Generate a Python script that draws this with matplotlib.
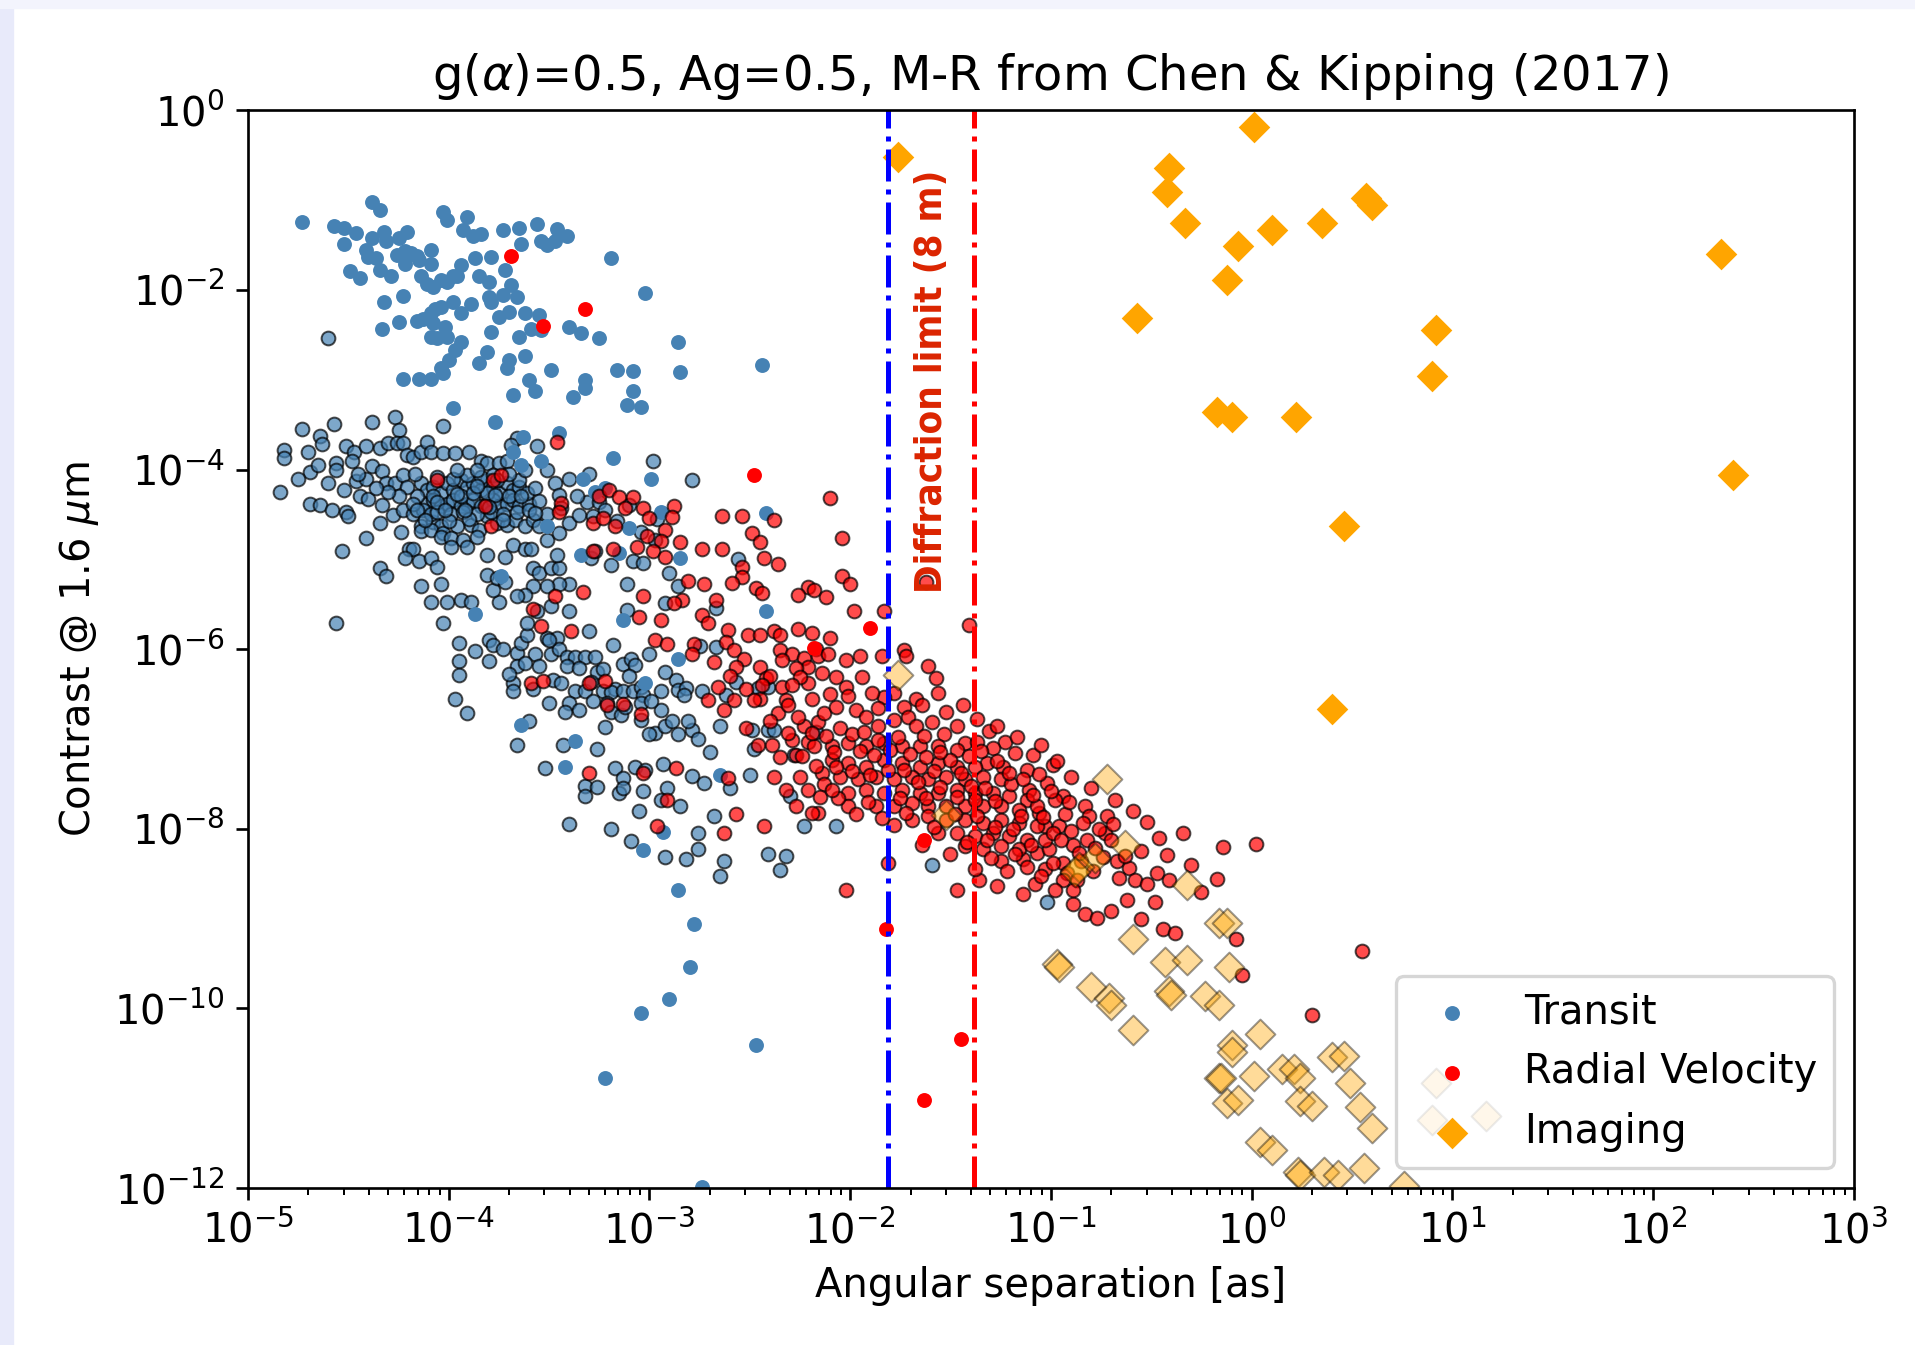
import numpy as np
import matplotlib
matplotlib.use("Agg")
import matplotlib.pyplot as plt
from matplotlib.patches import Rectangle
from matplotlib.ticker import LogLocator, NullLocator

# values, as (log10 separation [as], log10 contrast)
transit_detected = [
    (-4.73, -1.24), (-4.38, -1.02), (-4.34, -1.11), (-4.57, -1.29), (-4.52, -1.31), (-4.46, -1.37),
    (-4.38, -1.42), (-4.52, -1.49), (-4.32, -1.35), (-4.31, -1.45), (-4.25, -1.42), (-4.21, -1.35),
    (-4.41, -1.56), (-4.36, -1.64), (-4.40, -1.63), (-4.26, -1.61), (-4.22, -1.57), (-4.19, -1.59),
    (-4.16, -1.62), (-4.09, -1.56), (-4.09, -1.71), (-4.22, -1.71), (-4.15, -1.67), (-4.49, -1.79),
    (-4.44, -1.87), (-4.34, -1.78), (-4.29, -1.85), (-4.14, -1.84), (-4.11, -1.93), (-4.08, -1.97),
    (-4.04, -1.89), (-4.01, -1.91), (-3.98, -1.85), (-3.96, -1.84), (-4.03, -1.13), (-4.01, -1.22),
    (-3.91, -1.19), (-3.93, -1.33), (-3.88, -1.40), (-3.84, -1.38), (-3.87, -1.65), (-3.79, -1.63),
    (-3.73, -1.33), (-3.65, -1.31), (-3.64, -1.49), (-3.56, -1.27), (-3.54, -1.45), (-3.51, -1.50),
    (-3.46, -1.32), (-3.47, -1.45), (-3.41, -1.40), (-3.85, -1.84), (-3.80, -1.91), (-3.72, -1.78),
    (-3.69, -1.95), (-3.80, -2.08), (-3.79, -2.13), (-3.73, -2.06), (-3.66, -2.08), (-3.94, -1.72),
    (-3.98, -2.13), (-3.89, -2.16), (-3.94, -2.26), (-4.07, -2.21), (-4.04, -2.19), (-4.09, -2.26),
    (-4.13, -2.32), (-4.16, -2.35), (-4.08, -2.37), (-4.02, -2.41), (-4.09, -2.52), (-4.06, -2.54),
    (-4.01, -2.52), (-4.33, -2.43), (-4.25, -2.36), (-4.23, -2.07), (-4.32, -2.14), (-3.97, -2.67),
    (-3.94, -2.58), (-4.00, -2.78), (-4.04, -2.87), (-4.03, -2.93), (-4.09, -2.99), (-4.15, -2.99),
    (-4.23, -2.99), (-3.81, -2.69), (-3.85, -2.81), (-3.70, -2.78), (-3.71, -2.87), (-3.62, -2.74),
    (-3.60, -3.00), (-3.57, -3.13), (-3.68, -3.17), (-3.49, -2.89), (-3.38, -3.19), (-3.32, -3.00),
    (-3.32, -3.09), (-3.16, -2.89), (-3.08, -2.90), (-3.08, -3.12), (-3.11, -3.28), (-3.04, -3.30),
    (-3.19, -1.64), (-3.02, -2.03), (-2.86, -2.58), (-2.85, -2.91), (-3.25, -2.54), (-3.34, -2.48),
    (-3.40, -2.41), (-3.65, -2.52), (-3.79, -2.47), (-3.75, -2.30), (-3.70, -2.25), (-3.62, -2.26),
    (-3.55, -2.28), (-3.59, -2.44), (-3.54, -2.45), (-3.98, -3.31), (-2.44, -2.84), (-2.42, -4.48),
    (-2.42, -5.58), (-3.77, -3.47), (-3.63, -3.64), (-3.45, -3.59), (-3.68, -3.81), (-3.64, -3.95),
    (-3.54, -3.91), (-3.33, -4.10), (-3.18, -3.87), (-2.99, -4.10), (-3.27, -4.25), (-3.22, -4.21),
    (-3.51, -4.63), (-3.10, -4.65), (-2.94, -4.47), (-2.85, -4.99), (-3.15, -4.93), (-3.34, -4.95),
    (-3.74, -5.19), (-3.02, -6.38), (-3.64, -6.84), (-3.87, -5.61), (-3.13, -5.68), (-2.86, -6.11),
    (-3.37, -7.02), (-3.42, -7.31), (-3.03, -8.24), (-2.93, -8.04), (-2.65, -7.40), (-2.86, -8.68),
    (-2.78, -9.06), (-2.80, -9.54), (-2.90, -9.90), (-3.04, -10.05), (-2.47, -10.41), (-3.22, -10.77),
    (-2.74, -11.99),
]

transit_simulated = [
    (-4.60, -2.53), (-4.73, -3.55), (-4.64, -3.63), (-4.57, -3.49), (-4.38, -3.47), (-4.27, -3.42),
    (-4.25, -3.56), (-4.03, -3.52), (-4.82, -3.78), (-4.82, -3.87), (-4.84, -4.25), (-4.69, -4.03),
    (-4.56, -3.93), (-4.56, -4.01), (-4.51, -3.74), (-4.47, -3.81), (-4.41, -3.74), (-4.38, -3.96),
    (-4.34, -3.76), (-4.30, -3.71), (-4.26, -3.71), (-4.23, -3.71), (-4.46, -4.13), (-4.41, -4.10),
    (-4.52, -4.23), (-4.44, -4.30), (-4.40, -4.33), (-4.33, -4.02), (-4.31, -4.15), (-4.27, -4.15),
    (-4.23, -4.06), (-4.21, -3.84), (-4.18, -3.86), (-4.14, -3.80), (-4.11, -3.69), (-4.09, -3.80),
    (-4.03, -3.82), (-3.97, -3.82), (-3.90, -3.80), (-3.84, -3.91), (-3.81, -3.93), (-3.75, -3.93),
    (-3.71, -3.91), (-3.66, -3.65), (-3.69, -3.73), (-3.56, -3.74), (-4.69, -4.38), (-4.64, -4.39),
    (-4.58, -4.45), (-4.51, -4.47), (-4.50, -4.52), (-4.33, -4.40), (-4.28, -4.51), (-4.23, -4.45),
    (-4.18, -4.49), (-4.14, -4.63), (-4.08, -4.58), (-4.04, -4.63), (-4.34, -4.60), (-4.24, -4.69),
    (-4.14, -4.68), (-4.09, -4.67), (-4.03, -4.71), (-3.96, -4.63), (-3.89, -4.62), (-3.85, -4.67),
    (-3.81, -4.52), (-3.76, -4.60), (-3.71, -4.62), (-3.67, -4.56), (-3.62, -4.63), (-3.58, -4.56),
    (-3.55, -4.63), (-3.51, -4.49), (-3.47, -4.15), (-3.45, -4.28), (-3.51, -4.00), (-3.44, -4.43),
    (-3.40, -4.60), (-3.35, -4.51), (-3.31, -4.36), (-3.25, -4.36), (-3.28, -4.52), (-4.41, -4.76),
    (-4.53, -4.91), (-4.20, -4.88), (-4.18, -4.89), (-4.22, -4.98), (-4.15, -5.02), (-4.09, -4.98),
    (-4.06, -5.08), (-4.04, -4.75), (-3.99, -4.76), (-3.93, -4.78), (-3.99, -4.86), (-3.91, -4.86),
    (-3.86, -4.75), (-3.81, -4.95), (-3.72, -4.97), (-3.68, -4.84), (-3.62, -4.88), (-3.59, -4.89),
    (-3.58, -5.10), (-3.55, -5.15), (-3.49, -5.10), (-3.45, -5.10), (-3.51, -4.78), (-3.46, -4.95),
    (-3.40, -5.27), (-3.45, -5.28), (-3.51, -5.30), (-3.58, -5.30), (-3.62, -5.40), (-3.66, -5.41),
    (-3.75, -5.47), (-3.78, -5.34), (-3.81, -5.17), (-3.76, -5.21), (-3.72, -5.25), (-4.34, -5.10),
    (-4.31, -5.19), (-4.14, -5.30), (-4.04, -5.27), (-4.09, -5.47), (-4.01, -5.47), (-3.94, -5.45),
    (-3.89, -5.47), (-3.56, -5.58), (-3.49, -5.52), (-3.40, -5.58), (-3.29, -4.99), (-3.27, -4.91),
    (-3.19, -5.06), (-3.11, -5.28), (-3.08, -5.02), (-3.03, -5.04), (-3.11, -5.56), (-2.86, -5.30),
    (-2.97, -4.78), (-2.90, -5.15), (-2.98, -3.90), (-2.79, -4.12), (-3.45, -4.71),
    # dense core near 1e-4
    (-4.14, -4.15), (-4.11, -4.23), (-4.08, -4.19), (-4.04, -4.26), (-4.01, -4.15), (-3.98, -4.23),
    (-3.94, -4.12), (-3.91, -4.19), (-3.88, -4.15), (-3.84, -4.23), (-3.81, -4.12), (-3.78, -4.19),
    (-3.75, -4.26), (-3.71, -4.15), (-3.68, -4.23), (-3.65, -4.19), (-4.11, -4.38), (-4.08, -4.34),
    (-4.04, -4.41), (-4.01, -4.38), (-3.98, -4.34), (-3.94, -4.41), (-3.91, -4.38), (-3.88, -4.34),
    (-3.84, -4.41), (-3.81, -4.38), (-3.78, -4.34), (-3.75, -4.41), (-3.71, -4.38), (-3.68, -4.34),
    (-3.65, -4.41), (-3.60, -4.38), (-4.13, -4.45), (-4.09, -4.49), (-4.06, -4.47), (-3.99, -4.49),
    (-3.93, -4.47), (-3.86, -4.49), (-3.79, -4.47), (-3.73, -4.49), (-3.66, -4.47), (-3.60, -4.45),
    (-4.16, -4.30), (-4.18, -4.38), (-3.98, -4.10), (-3.91, -4.06), (-3.84, -4.08), (-3.78, -4.06),
    (-3.65, -4.12), (-3.61, -4.26), (-3.94, -4.30), (-3.81, -4.26), (-4.08, -4.30), (-3.88, -4.26),
    (-4.21, -4.19), (-4.17, -4.05), (-4.06, -4.08), (-3.96, -4.00), (-3.86, -4.00), (-3.76, -4.12),
    (-3.70, -4.05), (-3.62, -4.00), (-3.57, -4.20), (-3.55, -4.35), (-3.57, -4.48), (-3.70, -4.30),
    (-3.77, -4.28), (-3.86, -4.18), (-3.96, -4.27), (-4.06, -4.36), (-4.16, -4.45), (-4.12, -4.56),
    (-4.00, -4.57), (-3.90, -4.55), (-3.80, -4.42), (-3.73, -4.56), (-3.64, -4.30), (-3.92, -4.45),
    (-4.02, -4.45), (-4.25, -4.30), (-4.30, -4.25), (-4.36, -4.20), (-4.45, -4.05), (-4.60, -4.15),
    (-4.65, -3.95), (-4.75, -4.10), (-4.70, -3.80), (-4.63, -3.72), (-4.48, -3.90), (-3.40, -4.10),
    (-3.36, -4.30), (-3.30, -4.05), (-3.22, -4.45), (-3.16, -4.57), (-3.10, -4.40), (-3.04, -4.70),
    (-2.96, -4.55),
    # lower part
    (-4.56, -5.71), (-4.03, -5.71), (-3.95, -5.93), (-3.87, -6.02), (-3.95, -6.13), (-3.95, -6.29),
    (-3.97, -6.56), (-3.91, -6.71), (-3.80, -5.90), (-3.78, -5.95), (-3.73, -6.00), (-3.80, -6.13),
    (-3.66, -6.04), (-3.64, -5.93), (-3.61, -5.84), (-3.61, -5.71), (-3.57, -6.05), (-3.51, -5.88),
    (-3.46, -5.88), (-3.49, -6.05), (-3.45, -6.00), (-3.41, -6.09), (-3.37, -6.09), (-3.32, -6.09),
    (-3.27, -6.09), (-3.41, -6.19), (-3.35, -6.21), (-3.26, -6.25), (-3.23, -6.22), (-3.13, -6.17),
    (-3.09, -6.11), (-3.07, -6.18), (-3.66, -6.19), (-3.55, -6.19), (-3.68, -6.38), (-3.68, -6.47),
    (-3.58, -6.44), (-3.48, -6.34), (-3.44, -6.38), (-3.37, -6.47), (-3.40, -6.60), (-3.35, -6.68),
    (-3.42, -6.70), (-3.32, -6.47), (-3.29, -6.37), (-3.23, -6.47), (-3.17, -6.44), (-3.19, -6.48),
    (-3.13, -6.47), (-3.08, -6.47), (-3.04, -6.42), (-3.03, -6.51), (-3.21, -6.60), (-3.19, -6.70),
    (-3.14, -6.73), (-3.12, -6.64), (-3.04, -6.60), (-3.04, -6.79), (-2.94, -6.47), (-2.94, -6.68),
    (-2.99, -6.58), (-2.87, -6.34), (-2.86, -6.45), (-2.82, -6.43), (-2.83, -6.51), (-2.74, -6.47),
    (-2.65, -6.85), (-2.97, -6.93), (-2.92, -6.85), (-2.89, -6.80), (-2.86, -6.94), (-2.79, -6.90),
    (-2.76, -7.00), (-2.81, -6.80), (-2.75, -5.96), (-2.67, -5.98), (-2.57, -6.37), (-2.41, -6.42),
    (-2.41, -6.90), (-2.38, -6.90), (-2.48, -7.11), (-2.50, -7.40), (-3.22, -6.87), (-3.66, -7.07),
    (-3.52, -7.32), (-3.43, -7.07), (-3.26, -7.11), (-3.32, -7.52), (-3.32, -7.64), (-3.26, -7.53),
    (-3.17, -7.32), (-3.13, -7.43), (-3.15, -7.60), (-3.13, -7.55), (-3.07, -7.31), (-3.02, -7.34),
    (-3.03, -7.58), (-2.93, -7.28), (-2.91, -7.55), (-2.94, -7.68), (-2.79, -7.41), (-2.73, -7.49),
    (-2.68, -7.86), (-2.76, -8.05), (-2.76, -8.23), (-2.82, -8.34), (-2.92, -8.31), (-3.09, -8.14),
    (-3.19, -8.00), (-3.40, -7.95), (-2.63, -8.36), (-2.65, -8.53), (-2.41, -8.28), (-2.32, -8.30),
    (-2.35, -8.46), (-2.30, -7.63), (-2.23, -7.97), (-2.07, -7.97), (-2.28, -7.18), (-2.17, -6.92),
    (-2.49, -6.90), (-2.46, -6.43), (-2.62, -6.51), (-2.67, -5.54), (-2.92, -5.49), (-2.56, -5.00),
    (-1.59, -8.40), (-1.02, -8.81), (-3.50, -5.90), (-3.62, -6.15), (-3.70, -6.28), (-3.30, -5.80),
    (-3.18, -5.95), (-3.00, -6.05), (-2.92, -6.25), (-3.10, -6.30), (-3.28, -6.58), (-3.50, -6.60),
    (-3.60, -6.80), (-3.00, -6.95), (-2.70, -7.15), (-2.60, -7.55), (-2.85, -7.75), (-3.05, -7.80),
]

rv_detected = [
    (-3.69, -1.62), (-3.53, -2.40), (-3.32, -2.21), (-2.48, -4.06), (-1.90, -5.76),
    (-1.82, -9.12), (-1.63, -8.13), (-1.45, -10.34), (-1.63, -11.02), (-2.18, -5.99),
]

rv_simulated = [
    (-2.36, -5.05), (-2.54, -5.08), (-2.54, -5.20), (-2.59, -5.26), (-2.73, -5.28), (-2.81, -5.24),
    (-2.04, -5.18), (-2.00, -5.28), (-2.21, -5.31), (-2.18, -5.34), (-2.12, -5.42), (-2.26, -5.40),
    (-2.47, -5.32), (-2.44, -5.38), (-2.67, -5.45), (-2.84, -5.45), (-2.88, -5.49), (-2.94, -5.67),
    (-3.05, -5.64), (-3.03, -5.41), (-2.74, -5.62), (-2.71, -5.71), (-2.61, -5.79), (-2.51, -5.84),
    (-2.45, -5.84), (-2.38, -5.80), (-2.35, -5.84), (-2.26, -5.77), (-2.19, -5.82), (-2.10, -5.88),
    (-1.98, -5.57), (-1.83, -5.57), (-2.62, -5.92), (-2.78, -5.94), (-2.97, -5.90), (-2.91, -5.94),
    (-2.79, -6.05), (-2.68, -6.14), (-2.58, -6.01), (-2.53, -6.11), (-2.57, -6.20), (-2.45, -6.20),
    (-2.42, -6.32), (-2.35, -6.01), (-2.29, -6.05), (-2.23, -6.10), (-2.17, -6.00), (-2.16, -6.08),
    (-2.11, -6.05), (-2.21, -6.20), (-2.27, -6.21), (-2.34, -6.12), (-2.02, -6.12), (-1.95, -6.08),
    (-1.84, -6.08), (-1.73, -6.01), (-1.72, -6.08), (-1.61, -6.19), (-1.57, -6.32), (-1.56, -6.49),
    (-1.67, -6.55), (-1.73, -6.64), (-1.78, -6.49), (-1.83, -6.53), (-1.89, -6.49), (-1.94, -6.31),
    (-2.02, -6.42), (-2.07, -6.31), (-2.14, -6.27), (-2.21, -6.38), (-2.25, -6.31), (-2.34, -6.42),
    (-2.32, -6.57), (-2.36, -6.71), (-2.45, -6.55), (-2.52, -6.44), (-2.48, -6.57), (-2.52, -6.88),
    (-2.46, -7.07), (-2.39, -7.07), (-2.35, -7.20), (-2.27, -7.18), (-2.21, -7.03), (-2.23, -6.86),
    (-2.16, -6.81), (-2.13, -6.71), (-2.07, -6.64), (-1.97, -6.68), (-1.92, -6.75), (-1.86, -6.86),
    (-1.78, -6.79), (-1.71, -6.75), (-1.67, -6.86), (-1.59, -6.81), (-1.53, -6.94), (-1.47, -6.86),
    (-1.43, -7.05), (-1.37, -7.03), (-1.31, -6.91), (-1.23, -7.03), (-1.29, -7.10), (-1.32, -7.27),
    (-1.24, -7.31), (-1.18, -7.16), (-1.09, -7.18), (-0.99, -7.29), (-0.97, -7.25), (-1.12, -7.34),
    (-1.11, -7.57), (-1.02, -7.49), (-0.94, -7.64), (-0.98, -7.68), (-1.06, -7.82), (-1.03, -7.97),
    (-0.96, -7.97), (-0.89, -8.18), (-0.83, -7.75), (-0.81, -7.86), (-0.72, -7.86), (-0.59, -7.80),
    (-0.73, -8.05), (-0.82, -8.12), (-0.74, -8.31), (-0.85, -8.36), (-0.79, -8.47), (-0.67, -8.36),
    (-0.61, -8.44), (-0.58, -8.57), (-0.47, -8.49), (-0.42, -8.29), (-0.41, -8.57), (-0.34, -8.05),
    (-0.14, -8.20), (0.02, -8.17), (-0.17, -8.56), (-0.62, -8.79), (-0.48, -8.81), (-0.44, -9.12),
    (-0.38, -9.16), (-0.08, -9.23), (-0.83, -8.95), (-0.77, -8.99), (-0.89, -8.84), (-1.14, -8.73),
    (-1.08, -8.62), (-1.27, -8.64), (-1.36, -8.57), (-1.47, -8.68), (-1.38, -8.45), (-1.25, -8.36),
    (-1.14, -8.34), (-1.07, -8.27), (-1.01, -8.23), (-0.94, -8.38), (-0.92, -8.49), (-0.87, -8.57),
    (-0.89, -8.68),
    # dense band between the diffraction limits
    (-2.18, -7.08), (-2.09, -7.08), (-2.01, -7.05), (-1.92, -7.08), (-1.83, -7.05), (-1.74, -7.08),
    (-1.65, -7.08), (-1.56, -7.08), (-1.47, -7.12), (-2.09, -7.23), (-2.01, -7.27), (-1.92, -7.31),
    (-1.83, -7.23), (-1.74, -7.27), (-1.65, -7.31), (-1.56, -7.27), (-1.47, -7.31), (-1.38, -7.31),
    (-2.14, -7.38), (-2.05, -7.42), (-1.96, -7.45), (-1.87, -7.42), (-1.78, -7.45), (-1.69, -7.42),
    (-1.61, -7.45), (-1.52, -7.42), (-1.43, -7.45), (-1.34, -7.42), (-1.25, -7.45), (-2.01, -7.60),
    (-1.92, -7.57), (-1.83, -7.60), (-1.74, -7.57), (-1.65, -7.60), (-1.56, -7.60), (-1.47, -7.57),
    (-1.38, -7.60), (-1.29, -7.60), (-1.21, -7.64), (-1.12, -7.68), (-1.87, -7.75), (-1.78, -7.75),
    (-1.69, -7.71), (-1.61, -7.75), (-1.52, -7.75), (-1.43, -7.75), (-1.34, -7.75), (-1.25, -7.75),
    (-1.16, -7.79), (-1.07, -7.75), (-1.69, -7.90), (-1.61, -7.86), (-1.52, -7.90), (-1.43, -7.90),
    (-1.34, -7.94), (-1.25, -7.90), (-1.16, -7.94), (-1.07, -7.97), (-1.56, -8.05), (-1.47, -8.05),
    (-1.38, -8.08), (-1.29, -8.05), (-1.21, -8.08), (-1.12, -8.12), (-1.03, -8.12), (-1.43, -8.19),
    (-1.34, -8.23), (-1.25, -8.19), (-1.16, -8.23), (-1.12, -8.42), (-1.03, -8.45), (-0.94, -8.57),
    (-0.98, -8.68), (-2.01, -7.75),
    (-2.31, -6.62), (-2.26, -6.75), (-2.19, -6.93), (-2.12, -6.97), (-2.05, -6.88), (-1.99, -6.95),
    (-1.95, -7.13), (-1.88, -7.18), (-1.80, -7.12), (-1.76, -6.98), (-1.70, -7.17), (-1.62, -7.20),
    (-1.58, -7.36), (-1.50, -7.23), (-1.45, -7.38), (-1.40, -7.52), (-1.33, -7.55), (-1.28, -7.69),
    (-1.20, -7.50), (-1.15, -7.86), (-1.09, -7.62), (-1.04, -7.87), (-0.99, -8.05), (-0.93, -7.83),
    (-0.90, -8.02), (-0.86, -8.27), (-0.78, -8.21), (-0.70, -8.12), (-0.66, -8.55), (-0.55, -8.25),
    (-0.52, -8.62), (-0.99, -8.38), (-1.05, -8.53), (-1.18, -8.28), (-1.22, -8.47), (-1.30, -8.32),
    (-1.42, -8.15), (-1.50, -8.28), (-1.58, -7.98), (-1.64, -8.18), (-1.72, -7.82), (-1.78, -7.96),
    (-1.84, -7.88), (-1.91, -7.70), (-1.97, -7.83), (-2.06, -7.66), (-2.13, -7.50), (-2.17, -7.30),
    (-2.24, -7.19), (-2.29, -7.01), (-1.93, -6.92), (-1.86, -7.01), (-1.63, -6.97), (-1.55, -7.14),
    (-1.41, -7.19), (-1.35, -7.13), (-1.27, -7.24), (-1.21, -7.38), (-1.14, -7.45), (-1.06, -7.39),
    (-1.00, -7.58), (-0.91, -7.70), (-0.84, -7.93), (-0.76, -8.00), (-0.69, -7.95), (-0.63, -8.30),
    (-0.95, -8.13), (-1.10, -8.18), (-1.38, -7.68), (-1.47, -7.65), (-1.55, -7.54), (-1.66, -7.48),
    (-1.73, -7.35), (-1.81, -7.34), (-1.90, -7.40), (-1.99, -7.36), (-2.07, -7.31), (-2.15, -7.65),
    (-1.75, -7.66), (-1.62, -7.66), (-1.48, -7.83), (-1.37, -7.86), (-1.28, -7.98), (-1.19, -8.00),
    (-1.32, -8.12), (-1.52, -6.70), (-1.64, -6.62), (-1.86, -6.65), (-2.01, -6.52), (-2.10, -6.50),
    (-2.19, -6.55), (-2.29, -6.40), (-2.40, -6.30), (-2.44, -6.40), (-2.60, -6.30), (-2.66, -6.42),
    (-2.71, -6.57), (-2.63, -6.68), (-2.40, -6.80), (-2.31, -6.93), (-2.08, -7.15), (-1.44, -6.62),
    (-1.37, -6.78), (-1.27, -6.85), (-1.17, -6.98), (-1.05, -7.07), (-0.90, -7.42), (-0.80, -7.55),
    (-0.68, -7.68), (-0.52, -7.92), (-0.46, -8.10), (-0.30, -8.40), (-0.25, -8.70), (-0.55, -9.00),
    (-0.70, -8.92),
    # scattered points around the band
    (-2.25, -7.42), (-2.32, -7.57), (-2.38, -7.42), (-2.21, -7.57), (-2.27, -7.75), (-2.09, -7.57),
    (-2.61, -7.44), (-2.91, -7.68), (-3.03, -7.38), (-2.87, -7.32), (-2.58, -6.57), (-2.02, -8.68),
    (-1.81, -8.38), (-2.16, -7.82), (-2.19, -7.82), (-2.57, -7.84), (-2.63, -8.05), (-2.43, -7.97),
    (-2.96, -7.97), (-2.10, -4.32), (-2.54, -4.52), (-2.38, -4.56), (-2.49, -4.71), (-2.45, -4.81),
    (-2.04, -4.76), (-2.64, -4.88), (-2.43, -4.98), (-1.62, -5.25), (-1.41, -5.73),
    (-4.06, -4.12), (-3.78, -4.12), (-3.74, -4.06), (-3.82, -4.41), (-3.79, -4.63), (-3.46, -3.69),
    (-3.44, -4.37), (-3.45, -4.47), (-3.25, -4.30), (-3.20, -4.23), (-3.15, -4.31), (-3.08, -4.31),
    (-3.12, -4.43), (-3.17, -4.63), (-3.28, -4.59), (-3.23, -4.54), (-3.03, -4.43), (-3.00, -4.54),
    (-2.88, -4.41), (-2.89, -4.53), (-2.92, -4.67), (-3.01, -4.74), (-2.94, -4.80), (-2.85, -4.81),
    (-2.98, -4.91), (-3.06, -4.86), (-3.18, -4.89), (-3.28, -4.91), (-2.92, -4.97), (-2.74, -4.89),
    (-2.64, -4.52), (-3.33, -5.36), (-3.47, -5.41), (-3.58, -5.55), (-3.54, -5.74), (-3.39, -5.80),
    (-3.21, -6.62), (-3.30, -6.38), (-3.59, -6.38), (-3.53, -6.36), (-3.30, -7.38), (-3.13, -6.61),
    (-3.22, -6.36), (-3.04, -6.72), (0.55, -9.36), (0.30, -10.07), (-0.05, -9.63),
]

imaging_detected = [
    (-1.76, -0.52), (0.01, -0.19), (-0.41, -0.64), (-0.42, -0.91), (-0.33, -1.26), (-0.07, -1.51),
    (0.10, -1.33), (-0.12, -1.89), (0.35, -1.25), (0.57, -0.98), (0.60, -1.05), (-0.57, -2.31),
    (0.92, -2.45), (0.90, -2.96), (2.34, -1.60), (2.40, -4.06), (-0.17, -3.36), (-0.10, -3.42),
    (0.22, -3.41), (0.46, -4.63), (0.40, -6.67),
]

imaging_simulated = [
    (-1.76, -6.29), (-1.52, -7.85), (-0.72, -7.45), (-0.63, -8.18), (-0.78, -8.33), (-0.86, -8.42),
    (-0.88, -8.48), (-0.32, -8.63), (-0.16, -9.05), (-0.12, -9.05), (-0.59, -9.23), (-0.97, -9.50),
    (-0.96, -9.54), (-0.43, -9.48), (-0.32, -9.46), (-0.11, -9.54), (-0.80, -9.76), (-0.71, -9.88),
    (-0.70, -9.96), (-0.41, -9.81), (-0.40, -9.85), (-0.23, -9.86), (-0.16, -9.96), (-0.59, -10.24),
    (0.04, -10.29), (-0.10, -10.41), (-0.10, -10.48), (0.40, -10.54), (0.46, -10.53), (0.15, -10.68),
    (0.21, -10.67), (0.24, -10.77), (-0.16, -10.77), (-0.15, -10.77), (0.01, -10.75), (0.49, -10.83),
    (-0.12, -11.05), (-0.07, -11.02), (0.24, -11.03), (0.30, -11.09), (0.54, -11.10), (0.60, -11.33),
    (0.04, -11.49), (0.10, -11.58), (0.23, -11.82), (0.24, -11.85), (0.36, -11.82), (0.43, -11.85),
    (0.56, -11.78), (0.76, -11.98), (0.92, -10.83), (0.90, -11.24), (1.17, -11.20),
]

# diffraction limit of an 8 m telescope at 0.6 and 1.6 micron [as]
diffraction_limits = [0.0155, 0.0413]


def to_xy(points):
    arr = np.array(points)
    return 10 ** arr[:, 0], 10 ** arr[:, 1]


plt.rcParams["font.size"] = 12
fig = plt.figure(figsize=(1915 / 240, 1345 / 240), dpi=240)
fig.patches.append(Rectangle((0, 0), 12 / 1915, 1, transform=fig.transFigure,
                             color="#e8eafa", zorder=-1))
fig.patches.append(Rectangle((0, 1 - 7 / 1345), 1, 7 / 1345, transform=fig.transFigure,
                             color="#f3f4fd", zorder=-1))
ax = fig.add_axes([0.1295, 0.1167, 0.8385, 0.8013])

ax.axvline(diffraction_limits[0], color="blue", ls="-.", lw=1.5)
ax.axvline(diffraction_limits[1], color="red", ls="-.", lw=1.5)

ax.scatter(*to_xy(transit_simulated), s=17, c="steelblue", alpha=0.7,
           edgecolors="k", linewidths=0.6)
ax.scatter(*to_xy(transit_detected), s=20, c="steelblue", linewidths=0, label="Transit")
ax.scatter(*to_xy(rv_simulated), s=17, c="red", alpha=0.7,
           edgecolors="k", linewidths=0.6)
ax.scatter(*to_xy(rv_detected), s=20, c="red", linewidths=0, label="Radial Velocity")
ax.scatter(*to_xy(imaging_simulated), s=40, marker="D", c="orange", alpha=0.4,
           edgecolors="k", linewidths=0.6)
ax.scatter(*to_xy(imaging_detected), s=45, marker="D", c="orange", linewidths=0,
           label="Imaging")

ax.text(0.0257, 10 ** -5.37, "Diffraction limit (8 m)", rotation=90, color="#db2400",
        fontweight="bold", fontstretch="condensed", fontsize=11.5,
        ha="center", va="bottom")

ax.set_xscale("log")
ax.set_yscale("log")
ax.set_xlim(1e-5, 1e3)
ax.set_ylim(1e-12, 1)
ax.xaxis.set_major_locator(LogLocator(base=10, numticks=20))
ax.xaxis.set_minor_locator(LogLocator(base=10, subs=np.arange(2, 10), numticks=20))
ax.set_yticks(10.0 ** np.arange(-12, 1, 2))
ax.yaxis.set_minor_locator(NullLocator())

ax.set_title(r"g($\alpha$)=0.5, Ag=0.5, M-R from Chen & Kipping (2017)", fontsize=14.4)
ax.set_xlabel("Angular separation [as]")
ax.set_ylabel(r"Contrast @ 1.6 $\mu$m")
ax.legend(loc="lower right")

fig.savefig("out.png", dpi=240)
